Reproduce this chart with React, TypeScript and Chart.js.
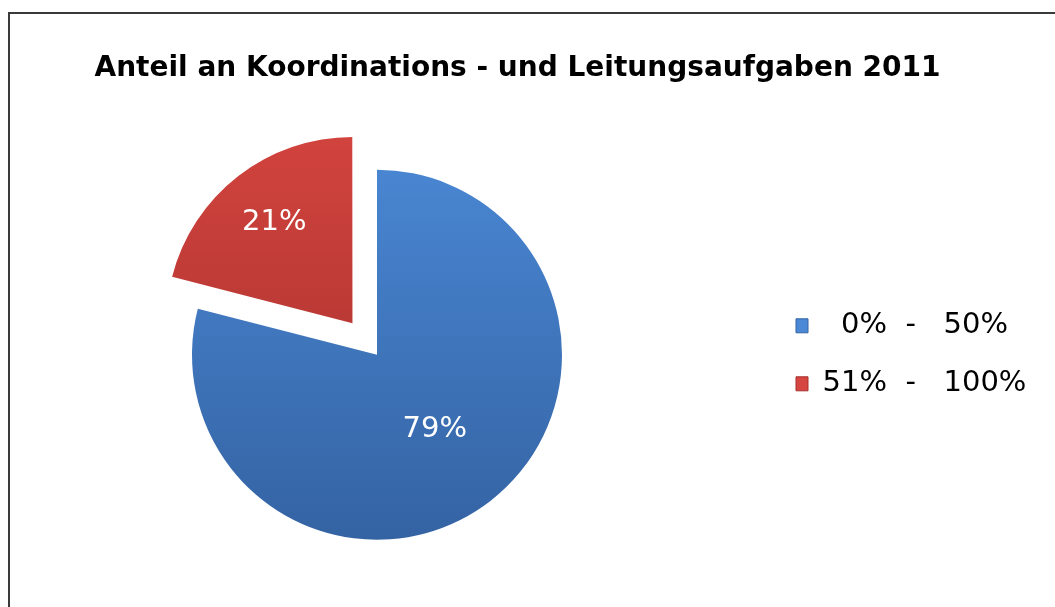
import React, { useEffect, useRef } from "react";
import { Chart, registerables } from "chart.js";

Chart.register(...registerables);

const TITLE = "Anteil an Koordinations - und Leitungsaufgaben 2011";
const categories = ["  0%  -   50%", "51%  -   100%"];
const values = [79, 21];
const valueLabels = ["79%", "21%"];
const offsets = [0, 160];

const topColors = ["#4b89d6", "#d6453f"];
const bottomColors = ["#3463a3", "#a5302d"];
const labelFactors = [0.51, 0.69];
const PIE_RADIUS = 185;
const FONT = "'DejaVu Sans', Verdana, sans-serif";

const valueLabelPlugin = {
  id: "valueLabels",
  afterDatasetsDraw(chart: any) {
    const meta = chart.getDatasetMeta(0);
    const c = chart.ctx;
    c.save();
    c.fillStyle = "#ffffff";
    c.font = `29px ${FONT}`;
    c.textAlign = "center";
    c.textBaseline = "middle";
    meta.data.forEach((arc: any, i: number) => {
      const mid = (arc.startAngle + arc.endAngle) / 2;
      const off = (arc.options.offset || 0) / 4;
      const r = arc.outerRadius * labelFactors[i] + off;
      c.fillText(valueLabels[i], arc.x + Math.cos(mid) * r, arc.y + Math.sin(mid) * r);
    });
    c.restore();
  },
};

export default function App() {
  const ref = useRef<HTMLCanvasElement>(null);
  useEffect(() => {
    if (!ref.current) return;
    const chart = new Chart(ref.current, {
      type: "pie",
      data: {
        labels: categories,
        datasets: [
          {
            data: values,
            backgroundColor: (ctx: any) => {
              const i = ctx.dataIndex;
              const ch = ctx.chart;
              const area = ch.chartArea;
              if (!area || i === undefined) return topColors[i ?? 0];
              const cy = (area.top + area.bottom) / 2;
              const g = ch.ctx.createLinearGradient(0, cy - PIE_RADIUS - 40, 0, cy + PIE_RADIUS);
              g.addColorStop(0, topColors[i]);
              g.addColorStop(1, bottomColors[i]);
              return g;
            },
            borderWidth: 0,
            offset: offsets,
          },
        ],
      },
      options: {
        responsive: false,
        animation: false,
        radius: PIE_RADIUS,
        layout: { padding: { left: 0, right: 0, top: 0, bottom: 7 } },
        plugins: {
          title: {
            display: true,
            text: TITLE,
            color: "#000000",
            font: { family: FONT, size: 28, weight: "bold", lineHeight: 1.2 },
            padding: { top: 52, bottom: 24 },
          },
          legend: {
            position: "right",
            fullSize: false,
            maxWidth: 281,
            labels: {
              color: "#000000",
              font: { family: FONT, size: 29 },
              boxWidth: 12,
              boxHeight: 14,
              padding: 29,
              generateLabels: () =>
                categories.map((t, i) => ({
                  text: t + "  ",
                  fillStyle: topColors[i],
                  strokeStyle: bottomColors[i],
                  lineWidth: 1,
                  hidden: false,
                  index: i,
                })),
            },
          },
          tooltip: { enabled: false },
        },
      } as any,
      plugins: [valueLabelPlugin],
    });
    return () => chart.destroy();
  }, []);

  return (
    <div style={{ position: "fixed", left: 0, top: 0, width: 1055, height: 607, overflow: "hidden", background: "#fff" }}>
      <div
        style={{
          position: "absolute",
          left: 8,
          top: 12,
          width: 1200,
          height: 800,
          border: "2px solid #3a3a3a",
        }}
      />
      <canvas
        ref={ref}
        width={1061}
        height={607}
        style={{ position: "absolute", left: -13, top: 0, width: 1061, height: 607 }}
      />
    </div>
  );
}
